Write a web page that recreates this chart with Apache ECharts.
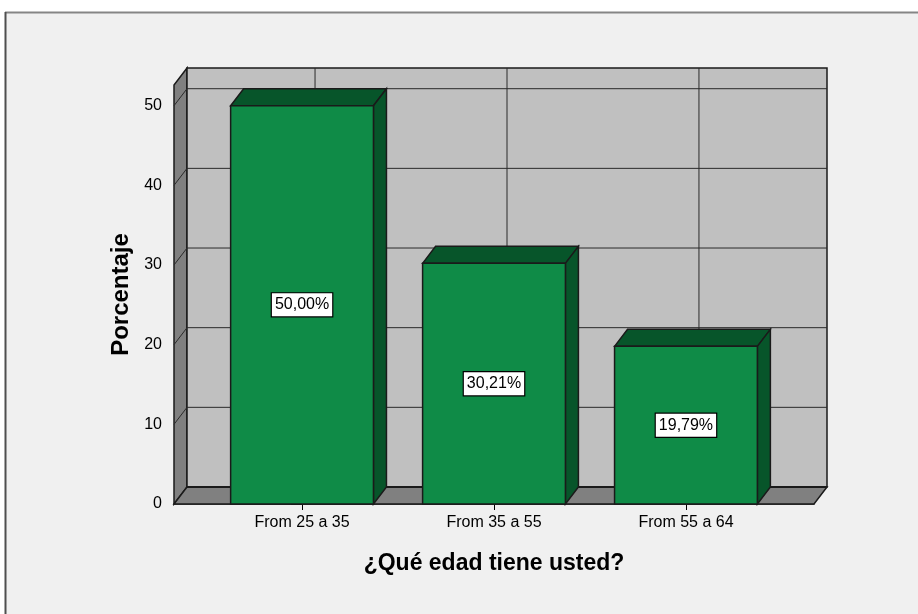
<!DOCTYPE html>
<html>
<head>
<meta charset="utf-8">
<script src="https://cdn.jsdelivr.net/npm/echarts@6/dist/echarts.min.js"></script>
<style>
html, body { margin: 0; padding: 0; background: #ffffff; }
#grafico { width: 918px; height: 614px; }
</style>
</head>
<body>
<div id="grafico"></div>
<script>
var categorias = ['From 25 a 35', 'From 35 a 55', 'From 55 a 64'];
var porcentajes = [50.00, 30.21, 19.79];
var marcasY = [0, 10, 20, 30, 40, 50];
var posiciones = [0, 1, 2];

gerarGrafico()
function gerarGrafico(){
    var dom = document.getElementById('grafico');
    var myChart = echarts.init(dom, null, { renderer: 'canvas' });

    // rango de los ejes (espacio "frontal" del grafico 3D)
    var xMin = -0.667, xMax = 2.667, yMax = 52.6;
    // desplazamiento de profundidad en pixeles
    var dx = 13, dy = -17;
    var medioAncho = 0.372;
    var linea = '#1a1a1a';
    var fuente = '"Liberation Sans", Arial, sans-serif';

    function paredes(params, api){
        var p00 = api.coord([xMin, 0]);
        var p10 = api.coord([xMax, 0]);
        var p01 = api.coord([xMin, yMax]);
        var hijos = [];
        // pared izquierda
        hijos.push({ type: 'polygon', shape: { points: [p00, [p00[0]+dx, p00[1]+dy], [p01[0]+dx, p01[1]+dy], p01] },
            style: { fill: '#808080', stroke: linea, lineWidth: 1.5 } });
        // suelo
        hijos.push({ type: 'polygon', shape: { points: [p00, [p00[0]+dx, p00[1]+dy], [p10[0]+dx, p10[1]+dy], p10] },
            style: { fill: '#808080', stroke: linea, lineWidth: 1.5 } });
        // pared del fondo
        hijos.push({ type: 'rect', shape: { x: p00[0]+dx, y: p01[1]+dy, width: p10[0]-p00[0], height: p00[1]-p01[1] },
            style: { fill: '#c0c0c0', stroke: linea, lineWidth: 1.5 } });
        marcasY.forEach(function(v){
            if (v === 0) return;
            var y = api.coord([xMin, v])[1];
            hijos.push({ type: 'line', shape: { x1: p00[0]+dx, y1: y+dy, x2: p10[0]+dx, y2: y+dy },
                style: { stroke: '#2a2a2a', lineWidth: 1 } });
            hijos.push({ type: 'line', shape: { x1: p00[0], y1: y, x2: p00[0]+dx, y2: y+dy },
                style: { stroke: '#2a2a2a', lineWidth: 1 } });
        });
        posiciones.forEach(function(i){
            var x = api.coord([i, 0])[0];
            hijos.push({ type: 'line', shape: { x1: x+dx, y1: p00[1]+dy, x2: x+dx, y2: p01[1]+dy },
                style: { stroke: '#2a2a2a', lineWidth: 1 } });
        });
        // borde inferior de la pared del fondo
        hijos.push({ type: 'line', shape: { x1: p00[0]+dx, y1: p00[1]+dy, x2: p10[0]+dx, y2: p10[1]+dy },
            style: { stroke: linea, lineWidth: 2 } });
        return { type: 'group', children: hijos };
    }

    function barras(params, api){
        var i = api.value(0), v = api.value(1);
        var tl = api.coord([i - medioAncho, v]);
        var br = api.coord([i + medioAncho, 0]);
        var w = br[0] - tl[0], h = br[1] - tl[1];
        var yMedio = api.coord([i, v / 2])[1];
        var oscuro = '#07552a';
        return { type: 'group', children: [
            { type: 'polygon', shape: { points: [[tl[0], tl[1]], [tl[0]+dx, tl[1]+dy], [br[0]+dx, tl[1]+dy], [br[0], tl[1]]] },
              style: { fill: oscuro, stroke: linea, lineWidth: 1.5 } },
            { type: 'polygon', shape: { points: [[br[0], tl[1]], [br[0]+dx, tl[1]+dy], [br[0]+dx, br[1]+dy], [br[0], br[1]]] },
              style: { fill: oscuro, stroke: linea, lineWidth: 1.5 } },
            { type: 'rect', shape: { x: tl[0], y: tl[1], width: w, height: h },
              style: { fill: '#0f8b47', stroke: linea, lineWidth: 1.5 } },
            { type: 'text', x: tl[0] + w / 2, y: yMedio,
              style: { text: v.toFixed(2).replace('.', ',') + '%', align: 'center', verticalAlign: 'middle',
                       font: '16px ' + fuente, fill: '#000',
                       backgroundColor: '#ffffff', borderColor: '#000', borderWidth: 1.2, padding: [4, 3, 3, 3] } }
        ]};
    }

    var option = {
      backgroundColor: '#ffffff',
      animation: false,
      graphic: { elements: [
        { type: 'rect', z: -10, silent: true, shape: { x: 5, y: 12, width: 940, height: 640 },
          style: { fill: '#f0f0f0', stroke: 'none' } },
        { type: 'line', z: -9, silent: true, shape: { x1: 5, y1: 12.5, x2: 918, y2: 12.5 },
          style: { stroke: '#858585', lineWidth: 2 } },
        { type: 'line', z: -9, silent: true, shape: { x1: 5.5, y1: 12, x2: 5.5, y2: 614 },
          style: { stroke: '#4f4f4f', lineWidth: 2 } }
      ]},
      grid: { left: 174, right: 104, top: 85, bottom: 110 },
      xAxis: {
        type: 'value', min: xMin, max: xMax,
        name: '¿Qué edad tiene usted?', nameLocation: 'middle', nameGap: 48,
        nameTextStyle: { fontFamily: fuente, fontWeight: 'bold', fontSize: 23, color: '#000' },
        splitLine: { show: false },
        axisLine: { show: true, lineStyle: { color: linea, width: 1.5 } },
        axisTick: { show: true, length: 6, customValues: posiciones, lineStyle: { color: '#000' } },
        axisLabel: { customValues: posiciones, margin: 11, color: '#000', fontSize: 16,
                     fontFamily: fuente,
                     formatter: function(v){ return categorias[Math.round(v)]; } }
      },
      yAxis: {
        type: 'value', min: 0, max: yMax,
        name: 'Porcentaje', nameLocation: 'middle', nameGap: 36,
        nameTextStyle: { fontFamily: fuente, fontWeight: 'bold', fontSize: 24, color: '#000' },
        splitLine: { show: false },
        axisLine: { show: true, lineStyle: { color: linea, width: 1.5 } },
        axisTick: { show: true, length: 11, customValues: marcasY, lineStyle: { color: '#000' } },
        axisLabel: { customValues: marcasY, margin: 12, color: '#000', fontSize: 16,
                     fontFamily: fuente }
      },
      series: [
        { type: 'custom', renderItem: paredes, data: [[0, 0]], silent: true, clip: false, z: 1 },
        { type: 'custom', renderItem: barras, data: porcentajes.map(function(v, i){ return [posiciones[i], v]; }),
          encode: { x: 0, y: 1 }, clip: false, z: 3 }
      ]
    };

    myChart.setOption(option);
    window.addEventListener('resize', myChart.resize);
}
</script>
</body>
</html>
